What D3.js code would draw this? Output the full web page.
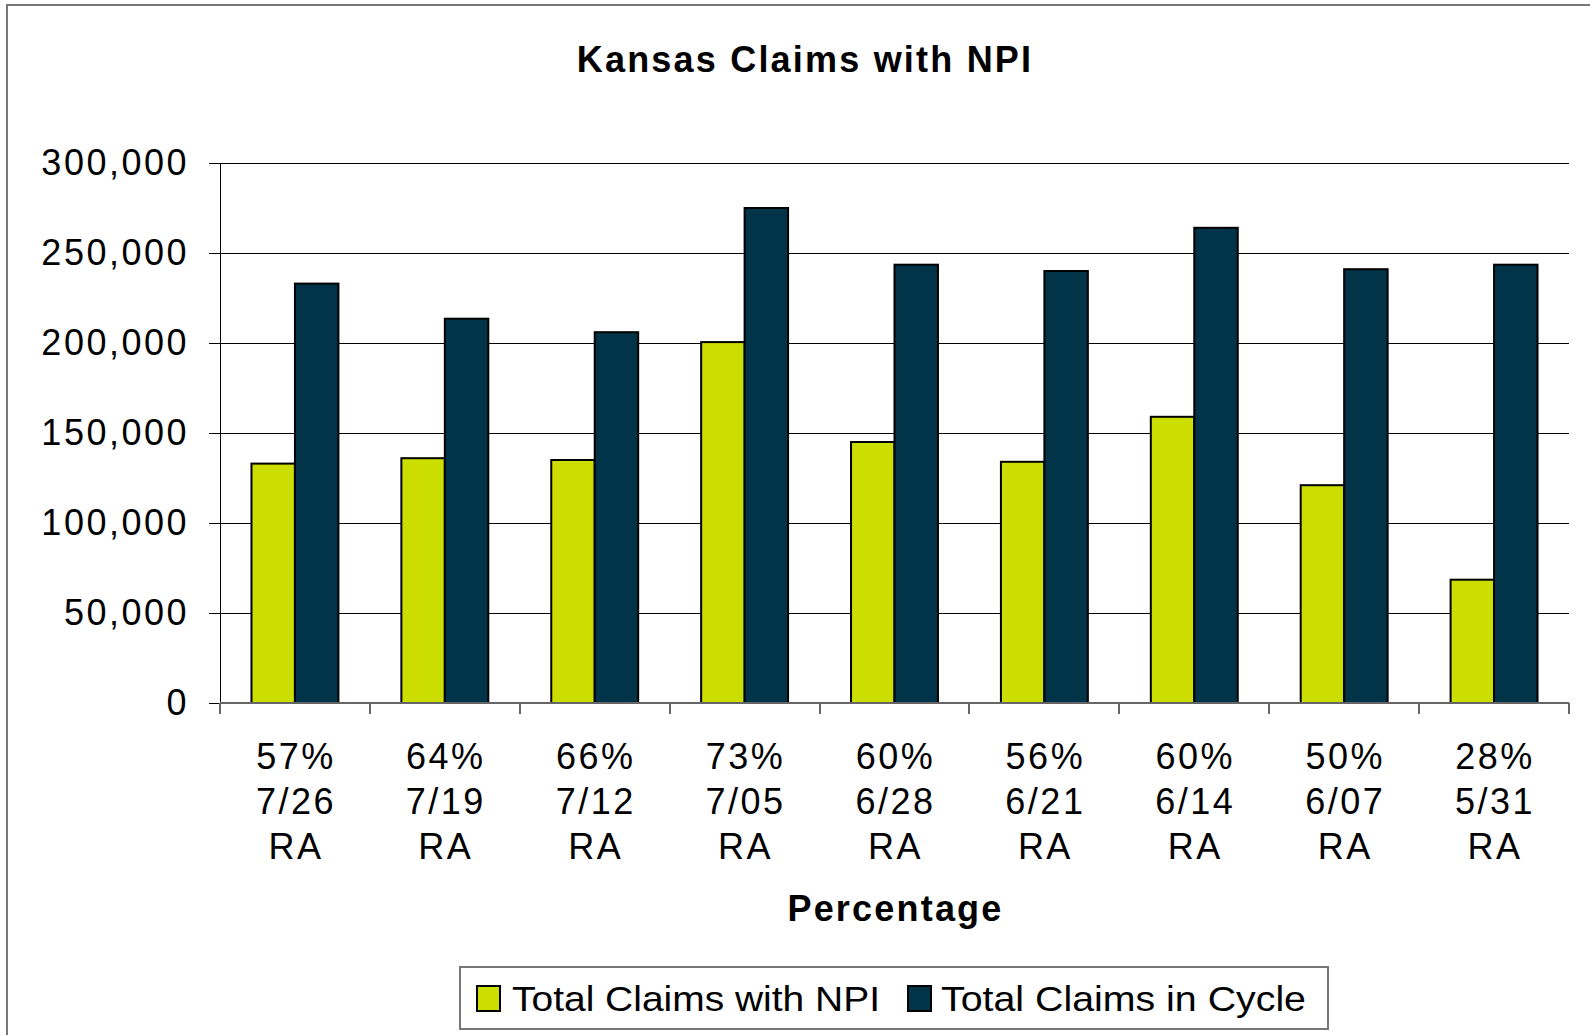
<!DOCTYPE html>
<html>
<head>
<meta charset="utf-8">
<script src="https://cdn.jsdelivr.net/npm/d3@7"></script>
<style>
  body { margin: 0; background: #fff; }
  svg text { font-family: "Liberation Sans", Arial, sans-serif; fill: #000; }
  svg line, svg path { shape-rendering: crispEdges; }
</style>
</head>
<body>
<div id="chart-area"></div>
<script>
// Chart data
const categories = ["7/26", "7/19", "7/12", "7/05", "6/28", "6/21", "6/14", "6/07", "5/31"];
const percentages = ["57%", "64%", "66%", "73%", "60%", "56%", "60%", "50%", "28%"];
const seriesNames = ["Total Claims with NPI", "Total Claims in Cycle"];
const claimsWithNPI = [133000, 136000, 135000, 200500, 145000, 134000, 159000, 121000, 68500];
const claimsInCycle = [233000, 213500, 206000, 275000, 243500, 240000, 264000, 241000, 243500];
const yTicks = [0, 50000, 100000, 150000, 200000, 250000, 300000];

const width = 1590;
const height = 1035;
const colors = ["#ccdd00", "#023449"];

// Plot area
const plotLeft = 220, plotRight = 1569, plotTop = 163, plotBottom = 703;

const svg = d3.select("#chart-area")
    .append("svg")
    .attr("width", width)
    .attr("height", height);

// Outer chart border (runs off the right and bottom edges)
svg.append("rect")
    .attr("x", 7)
    .attr("y", 5)
    .attr("width", 1620)
    .attr("height", 1100)
    .attr("fill", "none")
    .attr("stroke", "#777")
    .attr("stroke-width", 2);

const x0 = d3.scaleBand()
    .domain(categories)
    .range([plotLeft, plotRight])
    .paddingInner(0.42)
    .paddingOuter(0.21);

const x1 = d3.scaleBand()
    .domain(seriesNames)
    .range([0, x0.bandwidth()]);

const y = d3.scaleLinear()
    .domain([0, 300000])
    .range([plotBottom, plotTop]);

// Gridlines
svg.append("g")
    .selectAll("line")
    .data(yTicks.slice(1))
    .enter()
    .append("line")
    .attr("x1", plotLeft)
    .attr("x2", plotRight)
    .attr("y1", d => y(d))
    .attr("y2", d => y(d))
    .attr("stroke", "#000")
    .attr("stroke-width", 1);

// Y axis
const yAxis = svg.append("g")
    .attr("transform", `translate(${plotLeft},0)`)
    .call(d3.axisLeft(y).tickValues(yTicks).tickFormat(d3.format(",")).tickSize(11).tickPadding(20));
yAxis.select(".domain").attr("stroke", "#000").attr("stroke-width", 1);
yAxis.selectAll(".tick line").attr("stroke", "#000");
yAxis.selectAll(".tick text")
    .style("font-size", "36px")
    .style("letter-spacing", "2.5px")
    .attr("fill", "#000");

// Bars
const rows = categories.map((c, i) => ({ cat: c, values: [claimsWithNPI[i], claimsInCycle[i]] }));

const groups = svg.selectAll(".group")
    .data(rows)
    .enter()
    .append("g")
    .attr("class", "group")
    .attr("transform", d => `translate(${x0(d.cat)},0)`);

groups.selectAll("rect")
    .data(d => d.values.map((v, k) => ({ name: seriesNames[k], value: v, k: k })))
    .enter()
    .append("rect")
    .attr("x", d => x1(d.name))
    .attr("y", d => y(d.value))
    .attr("width", x1.bandwidth())
    .attr("height", d => plotBottom - y(d.value))
    .attr("fill", d => colors[d.k])
    .attr("stroke", "#000")
    .attr("stroke-width", 2);

// X axis baseline and category ticks
svg.append("line")
    .attr("x1", plotLeft)
    .attr("x2", plotRight)
    .attr("y1", plotBottom)
    .attr("y2", plotBottom)
    .attr("stroke", "#666")
    .attr("stroke-width", 2);

svg.append("g")
    .selectAll("line")
    .data(d3.range(categories.length + 1))
    .enter()
    .append("line")
    .attr("x1", i => plotLeft + i * x0.step())
    .attr("x2", i => plotLeft + i * x0.step())
    .attr("y1", plotBottom)
    .attr("y2", plotBottom + 11)
    .attr("stroke", "#666")
    .attr("stroke-width", 2);

// Category labels: percentage / date / RA
const labels = svg.append("g")
    .selectAll("text")
    .data(categories)
    .enter()
    .append("text")
    .attr("text-anchor", "middle")
    .style("font-size", "36px")
    .style("letter-spacing", "2.5px");

labels.each(function(d, i) {
    const cx = x0(d) + x0.bandwidth() / 2 + 1;
    const lines = [percentages[i], d, "RA"];
    d3.select(this).selectAll("tspan")
        .data(lines)
        .enter()
        .append("tspan")
        .attr("x", cx)
        .attr("y", (t, j) => 769 + j * 45)
        .text(t => t);
});

// Title
svg.append("text")
    .attr("x", 805)
    .attr("y", 72)
    .attr("text-anchor", "middle")
    .style("font-size", "36px")
    .style("font-weight", "bold")
    .style("letter-spacing", "2.2px")
    .text("Kansas Claims with NPI");

// X axis title
svg.append("text")
    .attr("x", (plotLeft + plotRight) / 2 + 1)
    .attr("y", 921)
    .attr("text-anchor", "middle")
    .style("font-size", "36px")
    .style("font-weight", "bold")
    .style("letter-spacing", "2.2px")
    .text("Percentage");

// Legend
const legend = svg.append("g");
legend.append("rect")
    .attr("x", 460)
    .attr("y", 967)
    .attr("width", 868)
    .attr("height", 62)
    .attr("fill", "#fff")
    .attr("stroke", "#777")
    .attr("stroke-width", 2);

const legendX = [477, 908];
const legendTextX = [512, 941];
const legendTextW = [368, 365];
seriesNames.forEach((name, k) => {
    legend.append("rect")
        .attr("x", legendX[k])
        .attr("y", 986)
        .attr("width", 23)
        .attr("height", 25)
        .attr("fill", colors[k])
        .attr("stroke", "#000")
        .attr("stroke-width", 2);
    legend.append("text")
        .attr("x", legendTextX[k])
        .attr("y", 1011)
        .attr("textLength", legendTextW[k])
        .attr("lengthAdjust", "spacingAndGlyphs")
        .style("font-size", "35px")
        .text(name);
});
</script>
</body>
</html>
